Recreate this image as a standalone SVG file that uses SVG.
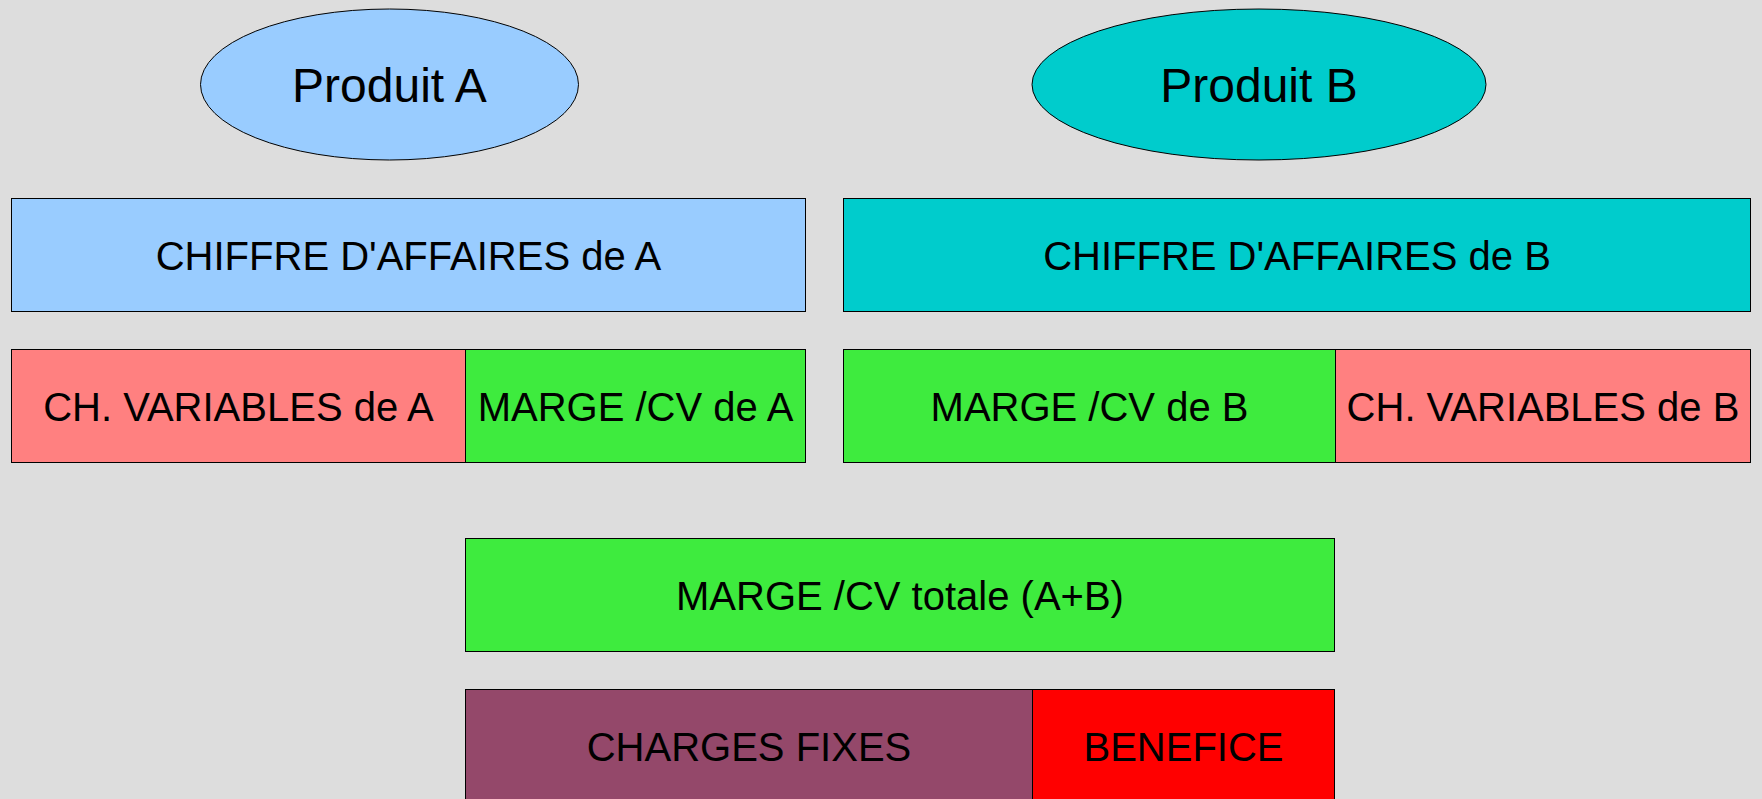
<svg xmlns="http://www.w3.org/2000/svg" width="1762" height="799" viewBox="0 0 1762 799">
<style>
  .n { stroke: #000000; stroke-width: 1; }
  .t { font-family: "Liberation Sans", Arial, sans-serif; font-size: 40px; fill: #000000; text-anchor: middle; }
  .tl { font-family: "Liberation Sans", Arial, sans-serif; font-size: 48px; fill: #000000; text-anchor: middle; }
  .blue { fill: #99ccff; }
  .cyan { fill: #00cccc; }
  .pink { fill: #ff8080; }
  .green { fill: #3eeb3e; }
  .purple { fill: #94486a; }
  .red { fill: #ff0000; }
</style>
<rect x="0" y="0" width="1762" height="799" fill="#dddddd"/>
<g id="connectors"></g>
<g id="produitA">
  <ellipse class="n blue" cx="389.5" cy="84.5" rx="189" ry="75.5"/>
  <text class="tl" x="389.5" y="101.5">Produit A</text>
</g>
<g id="produitB">
  <ellipse class="n cyan" cx="1259" cy="84.5" rx="227" ry="75.5"/>
  <text class="tl" x="1259" y="101.5">Produit B</text>
</g>
<g id="caA">
  <rect class="n blue" x="11.5" y="198.5" width="794" height="113"/>
  <text class="t" x="408.5" y="269.5">CHIFFRE D'AFFAIRES de A</text>
</g>
<g id="caB">
  <rect class="n cyan" x="843.5" y="198.5" width="907" height="113"/>
  <text class="t" x="1297" y="269.5">CHIFFRE D'AFFAIRES de B</text>
</g>
<g id="cvA">
  <rect class="n pink" x="11.5" y="349.5" width="454" height="113"/>
  <text class="t" x="238.5" y="420.5">CH. VARIABLES de A</text>
</g>
<g id="margeA">
  <rect class="n green" x="465.5" y="349.5" width="340" height="113"/>
  <text class="t" x="635.5" y="420.5">MARGE /CV de A</text>
</g>
<g id="margeB">
  <rect class="n green" x="843.5" y="349.5" width="492" height="113"/>
  <text class="t" x="1089.5" y="420.5">MARGE /CV de B</text>
</g>
<g id="cvB">
  <rect class="n pink" x="1335.5" y="349.5" width="415" height="113"/>
  <text class="t" x="1543" y="420.5">CH. VARIABLES de B</text>
</g>
<g id="margeTotale">
  <rect class="n green" x="465.5" y="538.5" width="869" height="113"/>
  <text class="t" x="900" y="609.5">MARGE /CV totale (A+B)</text>
</g>
<g id="chargesFixes">
  <rect class="n purple" x="465.5" y="689.5" width="567" height="113"/>
  <text class="t" x="749" y="760.5">CHARGES FIXES</text>
</g>
<g id="benefice">
  <rect class="n red" x="1032.5" y="689.5" width="302" height="113"/>
  <text class="t" x="1183.5" y="760.5">BENEFICE</text>
</g>
</svg>
